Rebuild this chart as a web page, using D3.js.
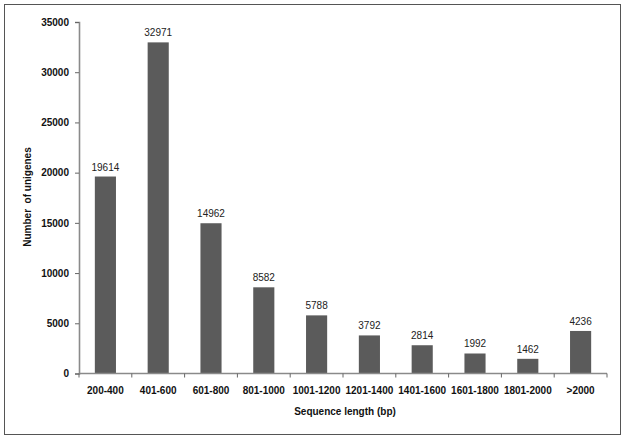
<!DOCTYPE html>
<html><head><meta charset="utf-8">
<script src="https://cdn.jsdelivr.net/npm/d3@7"></script>
<style>body{margin:0;background:#fff;} text{font-family:"Liberation Sans",Arial,sans-serif;}</style>
</head><body>
<svg id="c" width="625" height="439"></svg>
<script>
const categories = ["200-400","401-600","601-800","801-1000","1001-1200","1201-1400","1401-1600","1601-1800","1801-2000",">2000"];
const values = [19614,32971,14962,8582,5788,3792,2814,1992,1462,4236];
const yTicks = [0,5000,10000,15000,20000,25000,30000,35000];

const svg = d3.select("#c");
svg.append("rect").attr("x",4.5).attr("y",4.5).attr("width",616).attr("height",430)
  .attr("fill","#fff").attr("stroke","#555").attr("stroke-width",1);

const x0 = 79, x1 = 607, yBot = 373.5, yTop = 22;
const x = d3.scaleBand().domain(categories).range([x0,x1]).paddingInner(0.6).paddingOuter(0.3);
const y = d3.scaleLinear().domain([0,35000]).range([yBot,yTop]);

// bars
svg.selectAll("rect.bar").data(values).enter().append("rect").attr("class","bar")
  .attr("x",(d,i)=>x(categories[i])).attr("width",x.bandwidth())
  .attr("y",d=>y(d)).attr("height",d=>y(0)-y(d)).attr("fill","#5b5b5b");

// value labels
svg.selectAll("text.val").data(values).enter().append("text").attr("class","val")
  .attr("x",(d,i)=>x(categories[i])+x.bandwidth()/2).attr("y",d=>y(d)-6)
  .attr("text-anchor","middle").attr("font-size","10px").attr("fill","#222").text(d=>d);

// y axis
const yAxis = svg.append("g").attr("transform",`translate(${x0},0)`)
  .call(d3.axisLeft(y).tickValues(yTicks).tickSize(4).tickPadding(6).tickFormat(d3.format("d")));
yAxis.select(".domain").attr("stroke","#8a8a8a").attr("stroke-width",1.6);
yAxis.selectAll(".tick line").attr("stroke","#666");
yAxis.selectAll(".tick text").attr("font-size","10px").attr("font-weight","bold").attr("fill","#111")
  .style("font-family","'Liberation Sans',Arial,sans-serif");

// x axis: line + ticks at band boundaries
const xg = svg.append("g");
xg.append("line").attr("x1",x0).attr("x2",x1).attr("y1",yBot).attr("y2",yBot)
  .attr("stroke","#8a8a8a").attr("stroke-width",1.6);
const step = x.step();
const boundaries = d3.range(categories.length+1).map(i=>x(categories[0]) - x.paddingOuter()*step + i*step);
xg.selectAll("line.t").data(boundaries).enter().append("line").attr("class","t")
  .attr("x1",d=>d).attr("x2",d=>d).attr("y1",yBot).attr("y2",yBot+4).attr("stroke","#666");
xg.selectAll("text").data(categories).enter().append("text")
  .attr("x",d=>x(d)+x.bandwidth()/2).attr("y",394).attr("text-anchor","middle")
  .attr("font-size","10px").attr("font-weight","bold").attr("fill","#111").text(d=>d);

// axis titles
svg.append("text").attr("x",345).attr("y",415).attr("text-anchor","middle")
  .attr("font-size","10px").attr("font-weight","bold").attr("fill","#111").text("Sequence length (bp)");
svg.append("text").attr("transform","translate(31,197) rotate(-90)").attr("text-anchor","middle")
  .attr("font-size","10px").attr("font-weight","bold").attr("fill","#111").attr("xml:space","preserve")
  .style("white-space","pre").text("Number  of unigenes");
</script>
</body></html>
